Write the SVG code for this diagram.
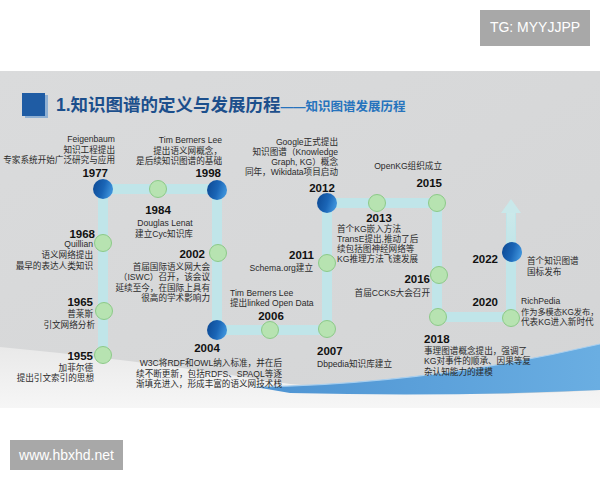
<svg xmlns="http://www.w3.org/2000/svg" width="600" height="480" viewBox="0 0 600 480">
<defs>
<linearGradient id="bg" x1="0" y1="0" x2="1" y2="1">
<stop offset="0" stop-color="#dadbdc"/>
<stop offset="1" stop-color="#d4d5d6"/>
</linearGradient>
<linearGradient id="low" x1="0" y1="0" x2="0" y2="1">
<stop offset="0" stop-color="#e9e9e9"/>
<stop offset="1" stop-color="#f6f6f6"/>
</linearGradient>
<linearGradient id="wave" x1="0" y1="0" x2="1" y2="0">
<stop offset="0" stop-color="#4d93d2"/>
<stop offset="1" stop-color="#6aaee2"/>
</linearGradient>
<linearGradient id="blue" x1="0" y1="0" x2="1" y2="0.3">
<stop offset="0" stop-color="#0c4791"/>
<stop offset="0.6" stop-color="#1a65b6"/>
<stop offset="1" stop-color="#3b8fd8"/>
</linearGradient>
<linearGradient id="arrowg" x1="0" y1="1" x2="0" y2="0">
<stop offset="0" stop-color="#bfe4e8"/>
<stop offset="1" stop-color="#cbe9ea"/>
</linearGradient>
<style>
.t{font-family:"Liberation Sans","Noto Sans CJK SC",sans-serif;font-size:8.6px;fill:#2a2a2a}
.y{font-family:"Liberation Sans",Arial,sans-serif;font-weight:bold;font-size:11.5px;fill:#111}
.e{text-anchor:end}
.m{text-anchor:middle}
.g{fill:#b7e3b1;stroke:#8cca88;stroke-width:1}
.b{fill:url(#blue)}
.ln{fill:none;stroke:#c0e5e9;stroke-width:10;stroke-linejoin:miter}
</style>
</defs>
<rect width="600" height="480" fill="#ffffff"/>
<!-- watermark -->
<rect x="480" y="10" width="110" height="36" fill="#a8a8a8"/>
<text x="535" y="32" text-anchor="middle" font-family="Liberation Sans,Arial,sans-serif" font-size="14" fill="#ffffff">TG: MYYJJPP</text>
<!-- panel -->
<rect x="0" y="71" width="600" height="337" fill="url(#bg)"/>
<path d="M0,347 Q140,360 290,384 Q450,400 600,390 L600,408 L0,408 Z" fill="url(#low)"/>
<path d="M255,387 Q430,384 600,344 L600,390 Q450,397 290,393 Z" fill="url(#wave)"/>
<path d="M255,387 Q430,384 600,344" fill="none" stroke="#a9cfee" stroke-width="1.2"/>
<!-- title -->
<rect x="25" y="95" width="23" height="23" fill="#8fb0d3"/>
<rect x="22" y="93" width="23" height="23" fill="#1f5ca4"/>
<text x="56" y="111" font-family="Liberation Sans,Noto Sans CJK SC,sans-serif" font-weight="bold" font-size="17.5" fill="#1c4f8c">1.知识图谱的定义与发展历程<tspan font-size="12.5" fill="#2673bd">——知识图谱发展历程</tspan></text>
<!-- connectors -->
<g id="connectors">
<path class="ln" d="M103,355 V189 H217 V330 H327 V203 H437 V317 H511 V212"/>
<path d="M507,252 V212 H515 V252 Z" fill="url(#arrowg)"/>
<polygon points="501,213 511,199 521,213" fill="#c9e8ea"/>
</g>
<!-- nodes -->
<g id="n1977">
<circle class="b" cx="103" cy="189" r="10"/>
<text class="y e" x="108" y="177">1977</text>
<text class="t e" x="115" y="142">Feigenbaum</text>
<text class="t e" x="115" y="152.5">知识工程提出</text>
<text class="t e" x="115" y="163">专家系统开始广泛研究与应用</text>
</g>
<g id="n1984">
<circle class="g" cx="158" cy="189" r="8.5"/>
<text class="y m" x="158" y="214">1984</text>
<text class="t m" x="165" y="226">Douglas Lenat</text>
<text class="t m" x="164" y="236.5">建立Cyc知识库</text>
</g>
<g id="n1998">
<circle class="b" cx="217" cy="190" r="10"/>
<text class="y e" x="221" y="177">1998</text>
<text class="t e" x="222" y="143">Tim Berners Lee</text>
<text class="t e" x="222" y="153.5">提出语义网概念，</text>
<text class="t e" x="222" y="164">是后续知识图谱的基础</text>
</g>
<g id="n1968">
<circle class="g" cx="103" cy="243" r="8.5"/>
<text class="y e" x="95" y="238">1968</text>
<text class="t e" x="93" y="246.5">Quillian</text>
<text class="t e" x="93" y="258">语义网络提出</text>
<text class="t e" x="93" y="268.5">最早的表达人类知识</text>
</g>
<g id="n2002">
<circle class="g" cx="218" cy="253" r="8.5"/>
<text class="y e" x="205" y="258">2002</text>
<text class="t e" x="210" y="269.5">首届国际语义网大会</text>
<text class="t e" x="210" y="280">（ISWC）召开，该会议</text>
<text class="t e" x="210" y="290.5">延续至今，在国际上具有</text>
<text class="t e" x="210" y="301">很高的学术影响力</text>
</g>
<g id="n1965">
<circle class="g" cx="104" cy="311" r="8.5"/>
<text class="y e" x="93" y="306">1965</text>
<text class="t e" x="93" y="316.5">普莱斯</text>
<text class="t e" x="95" y="327.5">引文网络分析</text>
</g>
<g id="n2004">
<circle class="b" cx="217" cy="330" r="10"/>
<text class="y m" x="207" y="352">2004</text>
<text class="t e" x="282" y="366">W3C将RDF和OWL纳入标准，并在后</text>
<text class="t e" x="282" y="376.5">续不断更新，包括RDFS、SPAQL等逐</text>
<text class="t e" x="282" y="387">渐填充进入，形成丰富的语义网技术栈</text>
</g>
<g id="n1955">
<circle class="g" cx="103" cy="355" r="8.5"/>
<text class="y e" x="93" y="360">1955</text>
<text class="t e" x="93" y="370.5">加菲尔德</text>
<text class="t e" x="94" y="381">提出引文索引的思想</text>
</g>
<g id="n2006">
<circle class="g" cx="270" cy="330" r="8.5"/>
<text class="y m" x="271" y="320">2006</text>
<text class="t" x="230" y="295.5">Tim Berners Lee</text>
<text class="t" x="230" y="305.5">提出linked Open Data</text>
</g>
<g id="n2007">
<circle class="g" cx="327" cy="329" r="8.5"/>
<text class="y" x="317" y="355">2007</text>
<text class="t" x="317" y="367">Dbpedia知识库建立</text>
</g>
<g id="n2011">
<circle class="g" cx="327" cy="263" r="8.5"/>
<text class="y e" x="314" y="259">2011</text>
<text class="t e" x="313" y="270.5">Schema.org建立</text>
</g>
<g id="n2012">
<circle class="b" cx="327" cy="203" r="10"/>
<text class="y m" x="322" y="192">2012</text>
<text class="t e" x="338" y="144.5">Google正式提出</text>
<text class="t e" x="338" y="154.5">知识图谱（Knowledge</text>
<text class="t e" x="338" y="165">Graph, KG）概念</text>
<text class="t e" x="338" y="175">同年，Wikidata项目启动</text>
</g>
<g id="n2013">
<circle class="g" cx="377" cy="203" r="8.5"/>
<text class="y m" x="379" y="222">2013</text>
<text class="t" x="337" y="231.5">首个KG嵌入方法</text>
<text class="t" x="337" y="241.5">TransE提出,推动了后</text>
<text class="t" x="337" y="251.5">续包括图神经网络等</text>
<text class="t" x="337" y="261.5">KG推理方法飞速发展</text>
</g>
<g id="n2015">
<circle class="g" cx="437" cy="203" r="8.5"/>
<text class="y e" x="442" y="187">2015</text>
<text class="t e" x="442" y="168.5">OpenKG组织成立</text>
</g>
<g id="n2016">
<circle class="g" cx="439" cy="275" r="8.5"/>
<text class="y e" x="430" y="283">2016</text>
<text class="t e" x="430" y="295.5">首届CCKS大会召开</text>
</g>
<g id="n2018">
<circle class="g" cx="438" cy="317" r="8.5"/>
<text class="y" x="424" y="342.5">2018</text>
<text class="t" x="424" y="354">事理图谱概念提出，强调了</text>
<text class="t" x="424" y="364">KG对事件的顺承、因果等复</text>
<text class="t" x="424" y="374.5">杂认知能力的建模</text>
</g>
<g id="n2020">
<circle class="g" cx="511" cy="318" r="8.5"/>
<text class="y e" x="498" y="306">2020</text>
<text class="t" x="521" y="303.5">RichPedia</text>
<text class="t" x="521" y="314.5" style="font-size:8.2px">作为多模态KG发布，</text>
<text class="t" x="521" y="324.5">代表KG进入新时代</text>
</g>
<g id="n2022">
<circle class="b" cx="512" cy="252" r="10"/>
<text class="y e" x="498" y="263">2022</text>
<text class="t" x="527" y="263.5">首个知识图谱</text>
<text class="t" x="527" y="274.5">国标发布</text>
</g>
<!-- bottom watermark -->
<rect x="10" y="440" width="113" height="30" fill="#a8a8a8"/>
<text x="66.5" y="460" text-anchor="middle" font-family="Liberation Sans,Arial,sans-serif" font-size="14" fill="#ffffff">www.hbxhd.net</text>
</svg>
